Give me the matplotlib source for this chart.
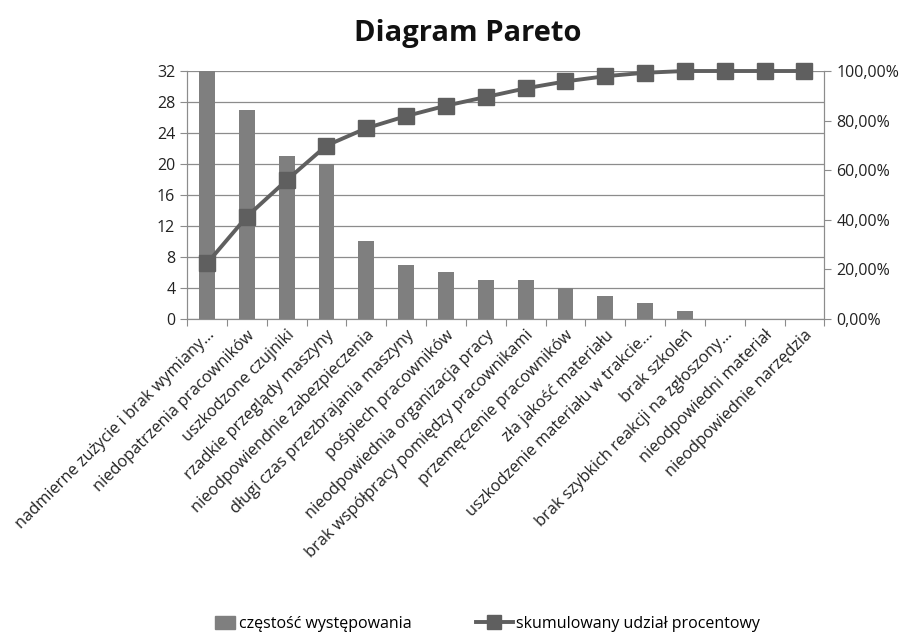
import matplotlib

matplotlib.use("Agg")

import matplotlib.pyplot as plt
from matplotlib.lines import Line2D
from matplotlib.patches import Patch
from matplotlib.ticker import FuncFormatter

plt.rcParams["font.family"] = ["Open Sans", "DejaVu Sans"]

CAUSES = [
    "nadmierne zużycie i brak wymiany…",
    "niedopatrzenia pracowników",
    "uszkodzone czujniki",
    "rzadkie przeglądy maszyny",
    "nieodpowiendnie zabezpieczenia",
    "długi czas przezbrajania maszyny",
    "pośpiech pracowników",
    "nieodpowiednia organizacja pracy",
    "brak współpracy pomiędzy pracownikami",
    "przemęczenie pracowników",
    "zła jakość materiału",
    "uszkodzenie materiału w trakcie…",
    "brak szkoleń",
    "brak szybkich reakcji na zgłoszony…",
    "nieodpowiedni materiał",
    "nieodpowiednie narzędzia",
]
COUNTS = [32, 27, 21, 20, 10, 7, 6, 5, 5, 4, 3, 2, 1, 0, 0, 0]

BAR_COLOR = "#7f7f7f"
LINE_COLOR = "#5f5f5f"

total = sum(COUNTS)
cumulative = []
running = 0
for c in COUNTS:
    running += c
    cumulative.append(running / total * 100)

x = list(range(len(COUNTS)))

fig = plt.figure(figsize=(9.17, 6.34), dpi=100)
ax = fig.add_axes([0.204, 0.497, 0.695, 0.391])
ax2 = ax.twinx()

ax.bar(x, COUNTS, width=0.4, color=BAR_COLOR, zorder=2)
ax2.plot(x, cumulative, color=LINE_COLOR, lw=2.8, marker="s", ms=11,
         mfc=LINE_COLOR, mec=LINE_COLOR, zorder=3, clip_on=False)

ax.set_xlim(-0.5, len(COUNTS) - 0.5)
ax.set_ylim(0, 32)
ax.set_yticks(range(0, 33, 4))
ax2.set_ylim(0, 100)
ax2.set_yticks(range(0, 101, 20))
ax2.yaxis.set_major_formatter(FuncFormatter(lambda v, p: f"{v:.2f}%".replace(".", ",")))

ax.yaxis.grid(True, color="#8c8c8c", lw=0.9, zorder=0)
ax.set_axisbelow(True)

for a in (ax, ax2):
    a.spines["top"].set_visible(False)
    for side in ("left", "right", "bottom"):
        a.spines[side].set_color("#8c8c8c")
    a.tick_params(colors="#8c8c8c", labelcolor="#222222", labelsize=11.5, length=5)

ax.set_xticks([i - 0.5 for i in range(len(COUNTS) + 1)])
ax.set_xticklabels([])
ax.set_xticks(x, minor=True)
ax.set_xticklabels(CAUSES, minor=True, rotation=45, ha="right",
                   rotation_mode="anchor", fontsize=11.8, color="#222222")
ax.tick_params(axis="x", which="minor", length=0, pad=6)

fig.suptitle("Diagram Pareto", x=0.51, y=0.97, fontsize=21, fontweight="bold", color="#111111")

# two separate legends so each handle gets its own length
fig.legend([Patch(facecolor=BAR_COLOR, edgecolor=BAR_COLOR)], ["częstość występowania"],
           loc="center left", bbox_to_anchor=(0.235, 0.016), frameon=False,
           fontsize=11.5, handlelength=1.2, handleheight=0.9, handletextpad=0.3,
           borderpad=0, borderaxespad=0)
fig.legend([Line2D([0], [0], color=LINE_COLOR, lw=2.8, marker="s", ms=10)],
           ["skumulowany udział procentowy"],
           loc="center left", bbox_to_anchor=(0.519, 0.016), frameon=False,
           fontsize=11.5, handlelength=2.3, handletextpad=0.2,
           borderpad=0, borderaxespad=0)

fig.savefig("out.png", dpi=100)
